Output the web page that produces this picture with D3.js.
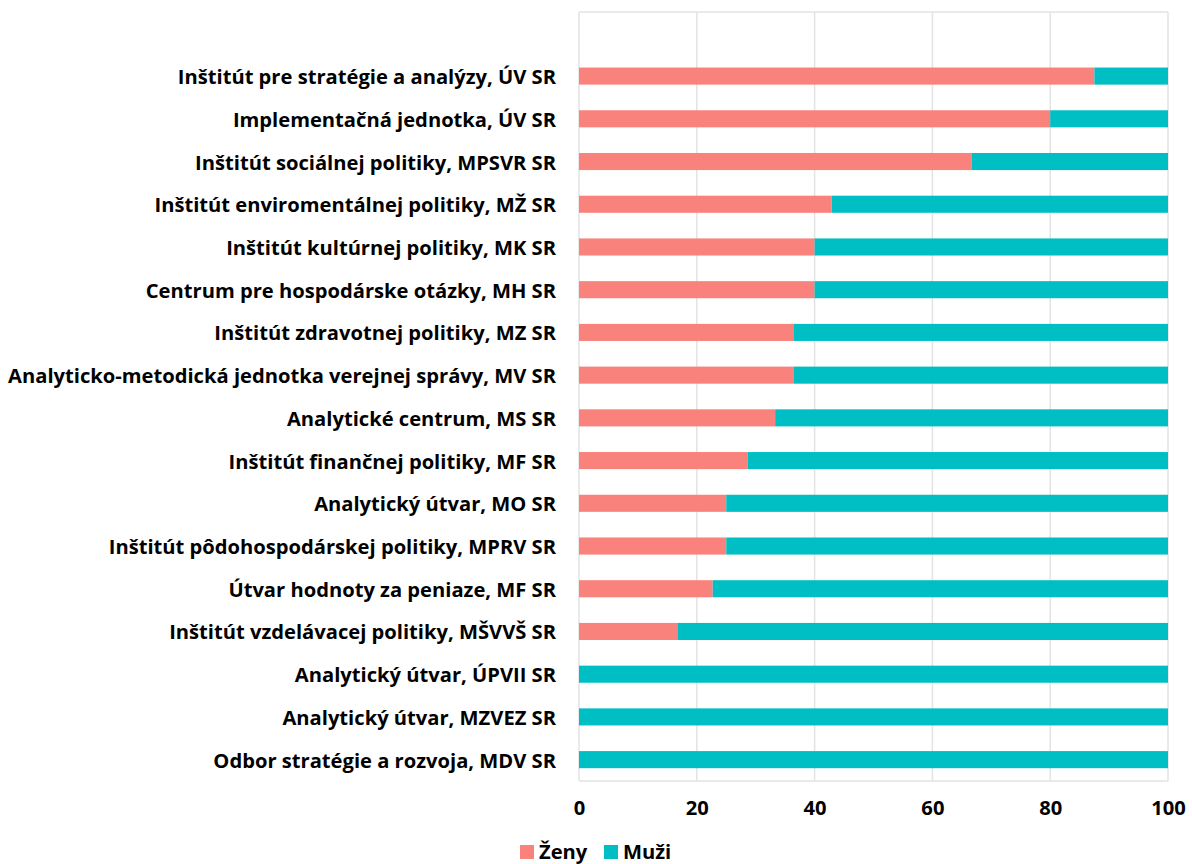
<!DOCTYPE html>
<html><head><meta charset="utf-8">
<script src="https://cdn.jsdelivr.net/npm/d3@7"></script>
<style>body{margin:0;background:#fff}svg{display:block}text{font-family:"Open Sans",Lato,sans-serif;font-weight:bold;fill:#000}</style>
</head><body><svg id="c" width="1192" height="864"></svg>
<script>
const categories = [
  "Inštitút pre stratégie a analýzy, ÚV SR",
  "Implementačná jednotka, ÚV SR",
  "Inštitút sociálnej politiky, MPSVR SR",
  "Inštitút enviromentálnej politiky, MŽ SR",
  "Inštitút kultúrnej politiky, MK SR",
  "Centrum pre hospodárske otázky, MH SR",
  "Inštitút zdravotnej politiky, MZ SR",
  "Analyticko-metodická jednotka verejnej správy, MV SR",
  "Analytické centrum, MS SR",
  "Inštitút finančnej politiky, MF SR",
  "Analytický útvar, MO SR",
  "Inštitút pôdohospodárskej politiky, MPRV SR",
  "Útvar hodnoty za peniaze, MF SR",
  "Inštitút vzdelávacej politiky, MŠVVŠ SR",
  "Analytický útvar, ÚPVII SR",
  "Analytický útvar, MZVEZ SR",
  "Odbor stratégie a rozvoja, MDV SR"
];
const zeny = [87.5, 80, 66.7, 42.9, 40, 40, 36.4, 36.4, 33.3, 28.6, 25, 25, 22.7, 16.7, 0, 0, 0];
const muzi = zeny.map(v => 100 - v);
const seriesNames = ["Ženy", "Muži"];
const colors = ["#F9827D", "#00BFC4"];
const ticks = [0, 20, 40, 60, 80, 100];

const svg = d3.select("#c");
const L = 579, R = 1168, T = 12, B = 781;
const x = d3.scaleLinear().domain([0, 100]).range([L, R]);
const y = d3.scaleBand().domain(["__top__", ...categories]).range([T, B]).paddingInner(0.6).paddingOuter(0.3);

// gridlines
svg.append("g").selectAll("line").data(ticks).join("line")
  .attr("x1", d => x(d)).attr("x2", d => x(d)).attr("y1", T).attr("y2", B)
  .attr("stroke", "#e3e3e3").attr("stroke-width", 1.5);
svg.append("line").attr("x1", L).attr("x2", R).attr("y1", T).attr("y2", T).attr("stroke", "#e3e3e3").attr("stroke-width", 1.5);
svg.append("line").attr("x1", L).attr("x2", R).attr("y1", B).attr("y2", B).attr("stroke", "#e3e3e3").attr("stroke-width", 1.5);

const rows = categories.map((c, i) => ({c, z: zeny[i], m: muzi[i]}));
const g = svg.append("g");
g.selectAll("rect.z").data(rows.filter(d => d.z > 0)).join("rect")
  .attr("x", x(0)).attr("y", d => y(d.c)).attr("height", y.bandwidth())
  .attr("width", d => x(d.z) - x(0)).attr("fill", colors[0]);
g.selectAll("rect.m").data(rows).join("rect")
  .attr("x", d => x(d.z)).attr("y", d => y(d.c)).attr("height", y.bandwidth())
  .attr("width", d => x(100) - x(d.z)).attr("fill", colors[1]);

// category labels (auto-fit longest label to reference width)
const lab = svg.append("g").selectAll("text").data(categories).join("text")
  .attr("x", L - 23).attr("y", d => y(d) + y.bandwidth() / 2)
  .attr("text-anchor", "end").attr("dominant-baseline", "central")
  .attr("font-size", 18).text(d => d);
let maxW = 0; lab.each(function(){ maxW = Math.max(maxW, this.getComputedTextLength()); });
const fs = 18 * 548 / maxW;
lab.attr("font-size", fs);

// x axis
const ax = svg.append("g").attr("transform", `translate(0,${B})`)
  .call(d3.axisBottom(x).tickValues(ticks).tickSize(0).tickPadding(20));
ax.select(".domain").remove();
ax.selectAll("text").attr("font-size", fs).attr("font-family", "'Open Sans',sans-serif").attr("font-weight", "bold").attr("fill", "#000");

// legend
const lg = svg.append("g");
const items = [{n: seriesNames[0], c: colors[0], x: 520}, {n: seriesNames[1], c: colors[1], x: 604}];
items.forEach(it => {
  lg.append("rect").attr("x", it.x).attr("y", 845).attr("width", 14).attr("height", 14).attr("fill", it.c);
  lg.append("text").attr("x", it.x + 19).attr("y", 851).attr("dominant-baseline", "central").attr("font-size", fs).text(it.n);
});
</script></body></html>
